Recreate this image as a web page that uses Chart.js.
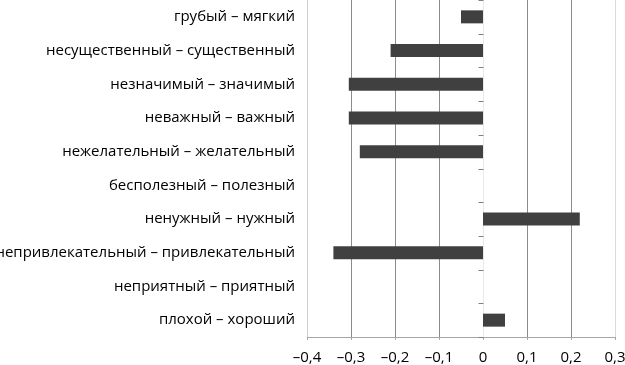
<!DOCTYPE html>
<html>
<head>
<meta charset="utf-8">
<script src="https://cdn.jsdelivr.net/npm/chart.js@4/dist/chart.umd.min.js"></script>
<style>
  html, body { margin: 0; padding: 0; background: #fff; }
  #wrap { width: 625px; height: 365px; }
</style>
</head>
<body>
<div id="wrap"><canvas id="chart"></canvas></div>
<script>
// Data
const categories = [
  "грубый – мягкий",
  "несущественный – существенный",
  "незначимый – значимый",
  "неважный – важный",
  "нежелательный – желательный",
  "бесполезный – полезный",
  "ненужный – нужный",
  "непривлекательный – привлекательный",
  "неприятный – приятный",
  "плохой – хороший"
];
const values = [-0.05, -0.21, -0.305, -0.305, -0.28, 0, 0.22, -0.34, 0, 0.05];
const xTickLabels = ["–0,4", "–0,3", "–0,2", "–0,1", "0", "0,1", "0,2", "0,3"];

Chart.defaults.font.family = "'Open Sans', sans-serif";
Chart.defaults.font.size = 15;
Chart.defaults.color = "#000";

// grid line colours: outer and zero lines are lighter
function gridColor(ctx) {
  if (ctx.index === 0) return "#cfcfcf";
  if (ctx.index === 4) return "#e8e8e8";
  if (ctx.index === 7) return "#dadada";
  return "#8c8c8c";
}

// small tick marks on the zero line, between categories
const zeroTicks = {
  id: "zeroTicks",
  afterDatasetsDraw(chart) {
    const { ctx, scales: { x, y } } = chart;
    const x0 = Math.round(x.getPixelForValue(0)) + 0.5;
    const n = categories.length;
    const step = n > 1 ? y.getPixelForValue(1) - y.getPixelForValue(0) : 0;
    ctx.save();
    ctx.strokeStyle = "#808080";
    ctx.lineWidth = 1;
    ctx.beginPath();
    for (let i = 0; i <= n; i++) {
      const yy = Math.round(y.getPixelForValue(i) - step / 2) + 0.5;
      ctx.moveTo(x0 - 5, yy);
      ctx.lineTo(x0, yy);
    }
    ctx.stroke();
    ctx.restore();
  }
};

new Chart(document.getElementById("chart"), {
  type: "bar",
  data: {
    labels: categories,
    datasets: [{
      data: values,
      backgroundColor: "#404040",
      borderWidth: 0,
      inflateAmount: 0,
      barThickness: 13
    }]
  },
  options: {
    indexAxis: "y",
    responsive: true,
    maintainAspectRatio: false,
    animation: false,
    layout: { padding: { top: 0, right: 10, bottom: 0, left: 0 } },
    plugins: {
      legend: { display: false },
      tooltip: { enabled: false }
    },
    scales: {
      x: {
        min: -0.4,
        max: 0.3,
        ticks: {
          stepSize: 0.1,
          padding: 9,
          maxRotation: 0,
          callback: (v, i) => xTickLabels[i]
        },
        grid: { color: gridColor, tickColor: "#a6a6a6", tickLength: 3 },
        border: { color: "#a6a6a6" },
        afterFit: (s) => { s.height = 28; s.paddingLeft = 0; s.paddingRight = 0; }
      },
      y: {
        position: "left",
        ticks: { padding: 12 },
        grid: { display: false, drawTicks: false },
        border: { display: false },
        afterFit: (s) => { s.width = 307; s.paddingTop = 0; s.paddingBottom = 0; }
      }
    }
  },
  plugins: [zeroTicks]
});
</script>
</body>
</html>
